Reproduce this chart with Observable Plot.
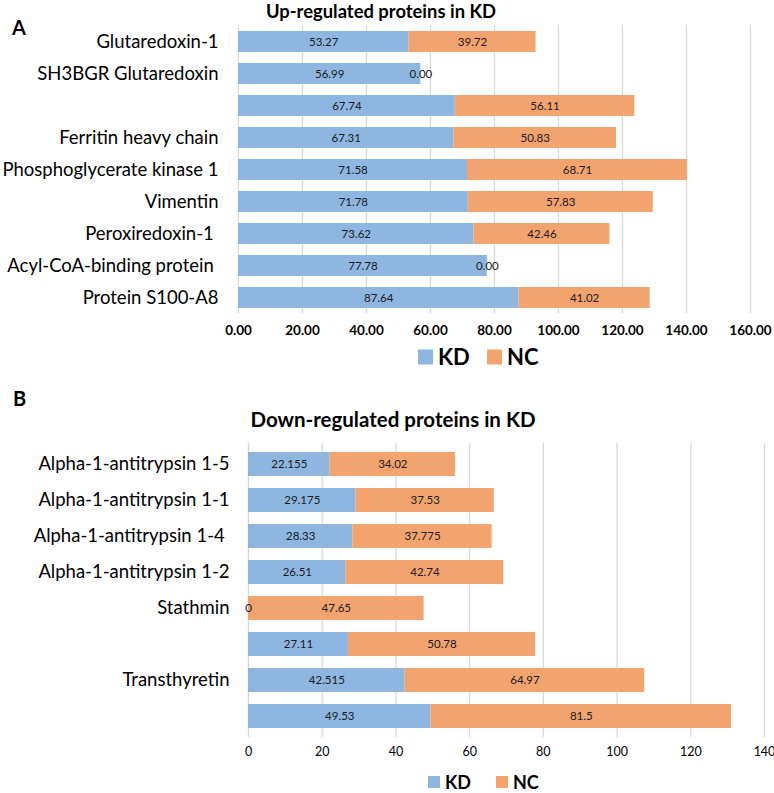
<!DOCTYPE html>
<html><head><meta charset="utf-8">
<script src="https://cdn.jsdelivr.net/npm/d3@7"></script>
<script src="https://cdn.jsdelivr.net/npm/@observablehq/plot@0.6"></script>
<style>
body{margin:0;background:#fff;font-family:Lato,"Open Sans",sans-serif;color:#000;}
#wrap{position:relative;width:774px;height:793px;overflow:hidden;background:#fff;}
.abs{position:absolute;white-space:nowrap;line-height:1;}
.title{font-weight:bold;transform:translate(-50%,-50%);}
.letter{font-weight:bold;transform:translateY(-50%);}
.lg{font-weight:bold;transform:translateY(-50%);}
svg{position:absolute;left:0;}
</style></head><body><div id="wrap"></div>
<script>
const upLabels = ["Glutaredoxin-1","SH3BGR Glutaredoxin","","Ferritin heavy chain","Phosphoglycerate kinase 1","Vimentin","Peroxiredoxin-1 ","Acyl-CoA-binding protein ","Protein S100-A8"];
const upKD = [53.27,56.99,67.74,67.31,71.58,71.78,73.62,77.78,87.64];
const upNC = [39.72,0,56.11,50.83,68.71,57.83,42.46,0,41.02];
const upTicks = [0,20,40,60,80,100,120,140,160];

const downLabels = ["Alpha-1-antitrypsin 1-5","Alpha-1-antitrypsin 1-1","Alpha-1-antitrypsin 1-4 ","Alpha-1-antitrypsin 1-2","Stathmin","","Transthyretin",""];
const downKD = [22.155,29.175,28.33,26.51,0,27.11,42.515,49.53];
const downNC = [34.02,37.53,37.775,42.74,47.65,50.78,64.97,81.5];
const downTicks = [0,20,40,60,80,100,120,140];

const series = ["KD","NC"];
const colors = ["#8DB6E1","#F2A36E"];
const titles = ["Up-regulated proteins in KD","Down-regulated proteins in KD"];
const panelLetters = ["A","B"];

function rows(labels, kd, nc, fmt){
  const out = [];
  labels.forEach((l,i)=>{
    out.push({i, series:"KD", x1:0, x2:kd[i], v:kd[i], t:fmt(kd[i])});
    out.push({i, series:"NC", x1:kd[i], x2:kd[i]+nc[i], v:nc[i], t:fmt(nc[i])});
  });
  return out;
}

function panel(opts){
  const data = rows(opts.labels, opts.kd, opts.nc, opts.valFmt);
  return Plot.plot({
    width:774, height:opts.height,
    marginLeft:opts.ml, marginRight:opts.mr, marginTop:opts.mt, marginBottom:opts.mb,
    style:{fontFamily:"Lato, 'Open Sans', sans-serif", background:"#fff"},
    x:{domain:[0, opts.ticks[opts.ticks.length-1]], label:null},
    y:{type:"band", domain:d3.range(opts.labels.length), paddingInner:opts.pi, paddingOuter:opts.po, label:null},
    color:{domain:series, range:colors},
    marks:[
      Plot.gridX(opts.ticks, {stroke:"#d9d9d9", strokeOpacity:1, strokeWidth:1.3}),
      Plot.barX(data, {x1:"x1", x2:"x2", y:"i", fill:"series"}),
      Plot.text(data, {x:d=>(d.x1+d.x2)/2, y:"i", text:"t", fill:"#1a1a1a", fontSize:opts.valSize}),
      Plot.axisY({tickSize:0, tickPadding:opts.yPad, tickFormat:i=>opts.labels[i], fontSize:opts.ySize, fill:"#000", label:null}),
      Plot.axisX(opts.ticks, {tickSize:0, tickPadding:opts.xPad, tickFormat:opts.tickFmt, fontSize:opts.xSize, fontWeight:opts.xWeight, fill:"#000", label:null})
    ]
  });
}

const wrap = document.getElementById("wrap");
function addDiv(cls, text, style){
  const d = document.createElement("div");
  d.className = "abs " + cls;
  d.textContent = text;
  Object.assign(d.style, style);
  wrap.appendChild(d);
  return d;
}

// Panel A
const svgA = panel({labels:upLabels, kd:upKD, nc:upNC, ticks:upTicks, height:345,
  ml:238, mr:24, mt:25, mb:32, pi:0.35, po:0.16, valFmt:d3.format(".2f"), tickFmt:d3.format(".2f"),
  valSize:11.5, ySize:18.5, yPad:20, xPad:12, xSize:13.5, xWeight:"bold"});
svgA.style.top = "0px";
wrap.appendChild(svgA);

// Panel B
const svgB = panel({labels:downLabels, kd:downKD, nc:downNC, ticks:downTicks, height:345,
  ml:248, mr:10, mt:13, mb:38, pi:0.346, po:0.178, valFmt:v=>String(v), tickFmt:d3.format("d"),
  valSize:11.5, ySize:18.5, yPad:19, xPad:10, xSize:12.5, xWeight:"normal"});
svgB.style.top = "430px";
wrap.appendChild(svgB);

// titles and letters
addDiv("title", titles[0], {left:"381px", top:"11px", fontSize:"18.4px"});
addDiv("title", titles[1], {left:"393px", top:"419px", fontSize:"20.5px"});
addDiv("letter", panelLetters[0], {left:"12px", top:"27px", fontSize:"20px"});
addDiv("letter", panelLetters[1], {left:"13px", top:"398px", fontSize:"20px"});

// legends
function legend(y, xs, sq, fs){
  series.forEach((s,k)=>{
    addDiv("lg", "", {left:xs[k]+"px", top:y+"px", width:sq+"px", height:sq+"px", background:colors[k]});
    addDiv("lg", s, {left:(xs[k]+sq+5)+"px", top:y+"px", fontSize:fs+"px"});
  });
}
legend(357, [418, 487], 15, 22);
legend(782, [428, 496], 12, 18);
</script></body></html>
